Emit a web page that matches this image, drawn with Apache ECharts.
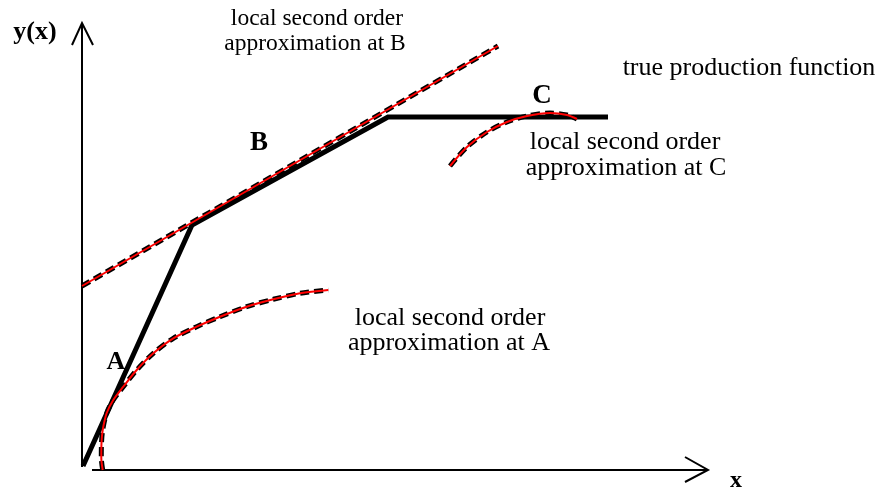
<!DOCTYPE html>
<html>
<head>
<meta charset="utf-8">
<script src="https://cdn.jsdelivr.net/npm/echarts@6/dist/echarts.min.js"></script>
<style>
  html, body { margin: 0; padding: 0; background: #fff; }
  #chart { width: 880px; height: 487px; }
</style>
</head>
<body>
<div id="chart"></div>
<script>
  // data units: x measured right from the y axis, y measured up from the x axis
  var trueX = [1, 110, 306, 526];
  var trueY = [4, 245, 353, 353];

  var tangentBX = [0, 416];
  var tangentBY = [184, 424];

  var approxAX = [20.7, 19.3, 19.5, 20.7, 24.7, 31.3, 41.3, 54.7, 71.3, 91.3, 114.7, 138, 164.7, 191.3, 218, 246.3];
  var approxAY = [0, 12, 27, 40, 57, 70, 83.3, 100, 116.7, 131.7, 143.3, 153.3, 163.3, 170.7, 176.7, 180];

  var approxCX = [368, 385, 405, 425, 445, 468, 485, 495];
  var approxCY = [304, 323, 338, 348, 354, 357, 355, 351];

  // axes with open arrow heads
  var yAxisX = [0, 0];
  var yAxisY = [3, 447];
  var yArrowX = [-10, 0, 11];
  var yArrowY = [425, 447, 425];
  var xAxisX = [10, 626];
  var xAxisY = [0, 0];
  var xArrowX = [603, 626, 603];
  var xArrowY = [13, 0, -12];

  function pairs(xs, ys) {
    return xs.map(function (x, i) { return [x, ys[i]]; });
  }

  var serif = 'Liberation Serif, Times New Roman, serif';

  function plain(name, xs, ys, width) {
    return {
      name: name, type: 'line', data: pairs(xs, ys), showSymbol: false, clip: false,
      silent: true, lineStyle: { color: '#000', width: width, join: 'miter' }
    };
  }

  function dashed(name, xs, ys, smooth) {
    return [
      {
        name: name + ' dash', type: 'line', data: pairs(xs, ys), smooth: smooth, showSymbol: false,
        clip: false, silent: true,
        lineStyle: { color: '#000', width: 5, type: [9, 5], cap: 'butt' }
      },
      {
        name: name, type: 'line', data: pairs(xs, ys), smooth: smooth, showSymbol: false,
        clip: false, silent: true,
        lineStyle: { color: '#ff0000', width: 2 }
      }
    ];
  }

  function txt(text, x, y, size, bold, align) {
    return {
      type: 'text', x: x, y: y, silent: true,
      style: {
        text: text, fill: '#000', font: (bold ? 'bold ' : '') + size + 'px ' + serif,
        align: align || 'center', verticalAlign: 'middle'
      }
    };
  }

  var chart = echarts.init(document.getElementById('chart'));
  chart.setOption({
    animation: false,
    backgroundColor: '#fff',
    grid: { left: 0, right: 0, top: 0, bottom: 17 },
    xAxis: { type: 'value', min: -82, max: 798, show: false },
    yAxis: { type: 'value', min: 0, max: 470, show: false },
    series: [
      plain('y axis', yAxisX, yAxisY, 2),
      plain('y arrow', yArrowX, yArrowY, 2),
      plain('x axis', xAxisX, xAxisY, 2),
      plain('x arrow', xArrowX, xArrowY, 2),
      plain('true production function', trueX, trueY, 5)
    ].concat(
      dashed('approx B', tangentBX, tangentBY, false),
      dashed('approx A', approxAX, approxAY, 0.3),
      dashed('approx C', approxCX, approxCY, 0.3)
    ),
    graphic: [
      txt('y(x)', 35, 32, 26, true),
      txt('x', 736, 481, 24, true),
      txt('A', 116, 362, 26, true),
      txt('B', 259, 143, 27, true),
      txt('C', 542, 96, 27, true),
      txt('local second order', 317, 19, 23.5),
      txt('approximation at B', 315, 44, 23.5),
      txt('true production function', 749, 68, 26),
      txt('local second order', 625, 142, 26),
      txt('approximation at C', 626, 168, 26),
      txt('local second order', 450, 318, 26),
      txt('approximation at A', 449, 343, 26)
    ]
  });
</script>
</body>
</html>
